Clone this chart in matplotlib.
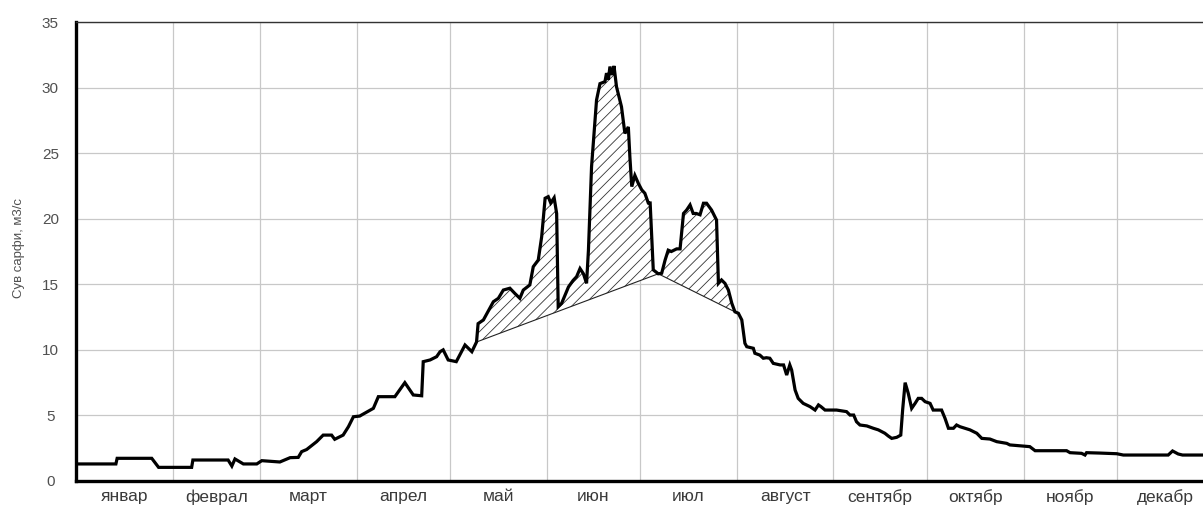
import matplotlib
matplotlib.use("Agg")
import matplotlib.pyplot as plt
import numpy as np

plt.rcParams['font.family'] = ['Liberation Sans', 'DejaVu Sans']
plt.rcParams['hatch.linewidth'] = 0.6

# ---- data (day of year, discharge m3/s) ----
days = [0, 12.8, 13.2, 24.3, 26.5, 37.1, 37.5, 48.8, 50, 51, 53.7, 58, 59.6, 65.4, 68.7, 71.3,
        72.4, 74, 77.2, 79.3, 82, 83, 85.7, 87.4, 89, 91, 95.4, 97, 102.3, 105.5, 108.2, 110.9,
        111.4, 113.6, 115.7, 116.8, 117.8, 119.4, 122, 124.8, 127, 128.5, 129, 130.7, 133.9,
        135.5, 137.1, 139.2, 140.8, 142.4, 143.5, 145.6, 146.7, 148.3, 149.4, 150.5, 151.5,
        152.3, 153.4, 154.2, 154.7, 155.8, 158, 159.5, 160.6, 161.7, 162.8, 163.8, 164.4,
        165.4, 167, 168.1, 169.7, 170.2, 170.8, 171.3, 172, 172.6, 173.4, 175, 176.1, 177.2,
        177.7, 178.3, 179.3, 180.4, 181.5, 182.5, 183.6, 184.2, 185.2, 186.8, 187.9, 189, 190,
        191, 192.7, 193.8, 194.9, 195.9, 197, 198, 199, 200.2, 201.3, 202.3, 203.9, 205, 205.5,
        206.1, 207.1, 208.2, 209.3, 210.4, 211.4, 212.5, 213.6, 214.6, 215.2, 217.3, 217.8,
        219.4, 220.5, 221.5, 222.6, 223.7, 225.9, 227, 228, 229, 229.6, 230.7, 231.7, 233.3,
        235.5, 237.1, 238.2, 239, 240.3, 244, 247.2, 248.3, 249.5, 250.4, 251.5, 253.7, 255.8,
        257.4, 259.5, 260.6, 261.7, 263.3, 264.6, 265.2, 266, 267, 268.1, 269.2, 270.2, 271.3,
        272.4, 274, 275, 277.7, 278.8, 279.9, 281.5, 282.5, 283.6, 286.8, 289, 290.6, 293.2,
        295.4, 298.6, 299.6, 306, 307.7, 317.8, 318.9, 322.6, 323.7, 324.2, 328.5, 333.9, 336,
        350.4, 351.8, 353.6, 355, 365]
flow = [1.3, 1.3, 1.73, 1.73, 1.04, 1.04, 1.6, 1.6, 1.14, 1.68, 1.3, 1.3, 1.55, 1.45, 1.78, 1.8,
        2.24, 2.4, 3.0, 3.5, 3.5, 3.18, 3.5, 4.14, 4.9, 4.95, 5.54, 6.43, 6.43, 7.5, 6.56, 6.5,
        9.1, 9.23, 9.48, 9.86, 10.0, 9.23, 9.1, 10.37, 9.86, 10.6, 12.0, 12.28, 13.67,
        13.93, 14.56, 14.7, 14.3, 13.93, 14.56, 14.95, 16.34, 16.85, 18.63, 21.56, 21.68,
        21.2, 21.6, 20.4, 13.3, 13.55, 14.8, 15.3, 15.58, 16.2, 15.8, 15.07, 17.6,
        23.97, 29.05, 30.3, 30.45, 31.1, 30.6, 31.6, 30.96, 31.65, 30.07, 28.54, 26.5, 27.0,
        24.7, 22.45, 23.3, 22.7, 22.2, 21.94, 21.2, 21.2, 16.1, 15.8, 15.84, 16.85, 17.6,
        17.5, 17.7, 17.7, 20.4, 20.66, 21.05, 20.4, 20.4, 20.3, 21.18, 21.18, 20.66, 20.15, 19.9,
        15.07, 15.33, 15.07, 14.56, 13.55, 12.9, 12.79, 12.28, 10.5, 10.24, 10.12, 9.74,
        9.6, 9.36, 9.4, 9.36, 8.97, 8.85, 8.85, 8.08, 8.85, 8.46, 6.94, 6.3, 5.92,
        5.67, 5.41, 5.8, 5.67, 5.41, 5.41, 5.29, 5.03, 5.03, 4.52, 4.27, 4.2, 4.02,
        3.9, 3.64, 3.43, 3.25, 3.33, 3.5, 5.41, 7.5, 6.69, 5.54, 5.92, 6.3, 6.3,
        6.05, 5.92, 5.41, 5.41, 4.78, 4.02, 4.02, 4.27, 4.14, 3.9, 3.64, 3.25, 3.2,
        3.0, 2.87, 2.75, 2.62, 2.31, 2.31, 2.16, 2.11, 1.98, 2.16, 2.13, 2.08, 1.98,
        1.98, 2.29, 2.06, 1.98, 1.98]

# baseflow separation line under the flood
base_days = [128.5, 186.8, 211.4]
base_flow = [10.6, 15.8, 12.9]

months = ['январ', 'феврал', 'март', 'апрел', 'май', 'июн', 'июл',
          'август', 'сентябр', 'октябр', 'ноябр', 'декабр']
month_len = [31, 28, 31, 30, 31, 30, 31, 31, 30, 31, 30, 31]
y_ticks = [0, 5, 10, 15, 20, 25, 30, 35]

# ---- figure ----
fig = plt.figure(figsize=(12.03, 5.13), dpi=100)
px_day = 3.117
ax = fig.add_axes([76 / 1203, 32 / 513, 365 * px_day / 1203, 459 / 513])

d = np.array(days)
q = np.array(flow)

# hatched flood volume polygon
mask = (d >= base_days[0]) & (d <= base_days[-1])
poly_x = list(d[mask]) + base_days[::-1]
poly_y = list(q[mask]) + base_flow[::-1]
ax.fill(poly_x, poly_y, facecolor='white', edgecolor='#333333', hatch='///', linewidth=0, zorder=2)
ax.plot(base_days, base_flow, color='#222222', linewidth=0.8, zorder=3)

ax.plot(d, q, color='black', linewidth=2.3, zorder=4, solid_joinstyle='miter')

ax.set_xlim(0, 365)
ax.set_ylim(0, 35)

starts = np.cumsum([0] + month_len[:-1])
mids = starts + np.array(month_len) / 2.0
ax.set_xticks(mids)
ax.set_xticklabels(months)
ax.set_xticks(starts[1:], minor=True)
ax.set_yticks(y_ticks)

ax.grid(False)
for s in starts[1:]:
    ax.axvline(s, color='#c8c8c8', linewidth=0.9, zorder=1)
for yv in y_ticks[1:]:
    ax.axhline(yv, color='#c8c8c8', linewidth=0.9, zorder=1)

ax.tick_params(axis='x', which='both', length=0, pad=6, labelsize=12.5, colors='#3a3a3a')
ax.tick_params(axis='y', which='both', length=0, pad=18.5, labelsize=11, colors='#505050')
for lab in ax.get_yticklabels():
    lab.set_horizontalalignment('center')

for side in ['left', 'bottom']:
    ax.spines[side].set_linewidth(2.4)
    ax.spines[side].set_color('black')
ax.spines['top'].set_linewidth(1.0)
ax.spines['top'].set_color('#333333')
ax.spines['right'].set_visible(False)

fig.text(19 / 1203, 1 - 248 / 513, 'Сув сарфи, м3/с', rotation=90, ha='center', va='center',
         fontsize=9.5, color='#505050')

fig.savefig('out.png', dpi=100)
